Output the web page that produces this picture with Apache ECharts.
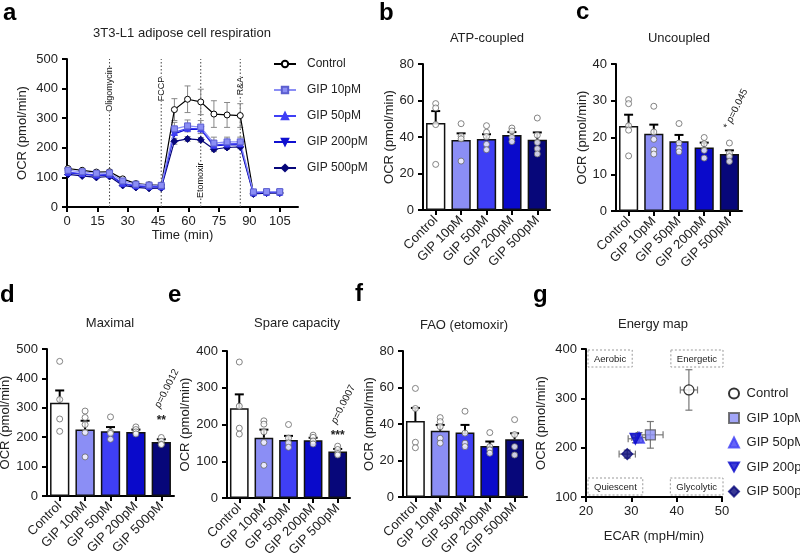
<!DOCTYPE html>
<html><head><meta charset="utf-8">
<script src="https://cdn.jsdelivr.net/npm/echarts@6/dist/echarts.min.js"></script>
<style>html,body{margin:0;padding:0;background:#fff}#c{width:800px;height:559px}</style>
</head><body><div id="c"></div>
<script>
const FONT = 'Arial, "Liberation Sans", Helvetica, sans-serif';

// ---------- data ----------
const cats = ['Control','GIP 10pM','GIP 50pM','GIP 200pM','GIP 500pM'];
const barColors = ['#ffffff','#8b8ef5','#3f3ff5','#0a0acb','#07077a'];

// panel a: time course
const times = [0.5,7.5,14.5,21,27.5,34,40.5,46.5,53,59.5,66,72.5,79,85.5,92,98.5,105];
const ocrCtrl = [130,124,118,119,95,79,75,73,329,364,355,314,311,309,46,49,49];
const ocrCtrlErr = [5,4,4,4,4,3,3,3,37,45,43,45,42,40,3,3,3];
const ocrG10 = [124,119,114,115,88,77,74,73,264,274,270,216,220,220,51,52,52];
const ocrG10Err = [4,4,4,4,4,3,3,3,22,20,22,20,16,16,3,3,3];
const ocrG50 = [117,113,108,110,80,72,70,69,252,266,264,209,213,214,48,50,50];
const ocrG200 = [115,111,106,108,78,70,68,67,247,263,262,206,210,211,47,49,49];
const ocrG500 = [110,105,100,103,73,66,63,64,222,230,227,195,201,203,44,47,47];
const ocrG500Err = [3,3,3,3,3,3,3,3,10,8,8,8,6,6,2,2,2];
const injections = [21,46.5,66,85.5];
const injectionNames = ['Oligomycin','FCCP','Etomoxir','R&A'];
const timeTicks = [0,15,30,45,60,75,90,105];

// panel b: ATP-coupled
const atpMean = [47.7,38.4,38.9,41.1,38.5];
const atpErr = [6.5,3.6,2.6,1.6,4.0];
const atpPts = [[58.3,55.9,46.8,25],[47.3,40.4,39,26.8],[46.2,42.6,40.2,36,33],[44.9,43.3,39.8,37.5],[50.4,41,37,33.6,30.7]];
// panel c: Uncoupled
const uncMean = [23.1,21.0,19.0,17.3,15.5];
const uncErr = [3.1,2.5,1.7,1.3,1.0];
const uncPts = [[30.3,29.2,23.2,22,15],[28.5,21.5,19.5,16.6,15.5],[23.8,18.5,17,16.1],[20,18.3,16.5,14.4],[18.5,15.7,14.8,13.5]];
// panel d: Maximal
const maxMean = [317,226,220.5,218,184];
const maxErr = [42,30,14,8,9];
const maxPts = [[458,328,262,220],[289,267,243,216,133],[269,218,213,193],[235,226,218,211],[199,186,176,175]];
// panel e: Spare capacity
const spareMean = [244,164,158,157,126.5];
const spareErr = [38,22,11,7,7];
const sparePts = [[370,250,190,174],[210,201,180,151,89],[200,163,150,138],[171,165,155,147],[141,132,121,117]];
// panel f: FAO (etomoxir)
const faoMean = [41.6,36.3,35.4,28.0,31.6];
const faoErr = [7.2,3.2,4.1,2.4,3.3];
const faoPts = [[59.5,48.5,30,27],[43.5,41.3,38.5,32.2,29.5],[47,35,29.5,27.6],[35.3,27.6,25.8,24],[42.4,34.2,27.6,23]];
// panel g: energy map
const ecarMean = [42.7,34.2,31.7,30.9,29.1];
const ecarErr = [1.9,2.8,1.6,1.6,1.8];
const ocrMapMean = [317,226,220.5,218,187];
const ocrMapErr = [41,27,10,8,8];
const mapCorners = [[20,400],[50,400],[20,100],[50,100]];
const mapCornerNames = ['Aerobic','Energetic','Quiescent','Glycolytic'];

// ---------- helpers ----------
const txt = {fontSize:13, color:'#222', fontFamily:FONT};
function valAxis(k, min, max, interval, name, nameGap, extra) {
  return Object.assign({type:'value', gridIndex:k, min, max, interval, name, nameLocation:'middle', nameGap,
    nameTextStyle:txt,
    axisLine:{show:true, onZero:false, lineStyle:{color:'#000', width:2}},
    axisTick:{show:true, length:5, lineStyle:{color:'#000', width:2}},
    axisLabel:Object.assign({margin:9}, txt),
    splitLine:{show:false}}, extra || {});
}
function catAxis(k) {
  return {type:'category', gridIndex:k, data:cats,
    axisLine:{show:true, lineStyle:{color:'#000', width:2}},
    axisTick:{show:true, alignWithLabel:true, length:5, lineStyle:{color:'#000', width:2}},
    axisLabel:Object.assign({rotate:45, interval:0, margin:8}, txt),
    splitLine:{show:false}};
}
function errUp(params, api) {
  const x = api.value(0), y = api.value(1), e = api.value(2);
  const p0 = api.coord([x, y]), p1 = api.coord([x, y + e]);
  const hw = 4.5;
  return {type:'group', children:[
    {type:'line', shape:{x1:p0[0], y1:p0[1], x2:p1[0], y2:p1[1]}, style:{stroke:'#000', lineWidth:2}},
    {type:'line', shape:{x1:p1[0]-hw, y1:p1[1], x2:p1[0]+hw, y2:p1[1]}, style:{stroke:'#000', lineWidth:2}}
  ]};
}
function errSym(params, api) {
  const x = api.value(0), y = api.value(1), e = api.value(2);
  const t = api.coord([x, y + e]), b = api.coord([x, y - e]);
  const hw = 3;
  return {type:'group', children:[
    {type:'line', shape:{x1:t[0], y1:t[1], x2:b[0], y2:b[1]}, style:{stroke:'#888', lineWidth:1}},
    {type:'line', shape:{x1:t[0]-hw, y1:t[1], x2:t[0]+hw, y2:t[1]}, style:{stroke:'#888', lineWidth:1}},
    {type:'line', shape:{x1:b[0]-hw, y1:b[1], x2:b[0]+hw, y2:b[1]}, style:{stroke:'#888', lineWidth:1}}
  ]};
}
function barSeries(k, means, errs, pts) {
  return [
    {type:'bar', xAxisIndex:k, yAxisIndex:k, barWidth:'76%', silent:true, z:2,
     data: means.map((v,j)=>({value:v, itemStyle:{color:barColors[j], borderColor:'#111', borderWidth:1.5}}))},
    {type:'custom', xAxisIndex:k, yAxisIndex:k, z:3, silent:true, encode:{x:0, y:1},
     data: means.map((v,j)=>[j, v, errs[j]]), renderItem: errUp},
    {type:'scatter', xAxisIndex:k, yAxisIndex:k, z:4, silent:true, symbol:'circle', symbolSize:6,
     itemStyle:{color:'#fff', borderColor:'#666', borderWidth:1},
     data: pts.flatMap((arr,j)=>arr.map(v=>[j, v]))}
  ];
}
function annotSeries(k, means, errs, stars, ptext, cfg) {
  const j = 4;
  return {type:'custom', xAxisIndex:k, yAxisIndex:k, z:5, silent:true, encode:{x:0, y:1},
    data:[[j, means[j] + errs[j]]],
    renderItem: function(params, api) {
      const p = api.coord([api.value(0), api.value(1)]);
      const children = [];
      if (stars) children.push({type:'text', x:p[0], y:p[1] + cfg.sdy,
        style:{text:stars, align:'center', verticalAlign:'middle', fontSize:12, fontWeight:'bold', fontFamily:FONT, fill:'#222'}});
      children.push({type:'text', x:p[0] + cfg.dx, y:p[1] + cfg.dy, rotation: cfg.rot * Math.PI / 180,
        style:{text:ptext, align:'left', verticalAlign:'middle', fontSize:10, fontFamily:FONT, fill:'#222',
          rich:{i:{fontStyle:'italic', fontSize:10, fontFamily:FONT, fill:'#222'}}}});
      return {type:'group', children};
    }};
}

const downTri = 'path://M0,0 L10,0 L5,9 Z';

const lineDefs = [
  {name:'Control', data:ocrCtrl, symbol:'circle', size:6, color:'#000', fill:'#fff', border:'#000'},
  {name:'GIP 500pM', data:ocrG500, symbol:'diamond', size:7, color:'#07077a', fill:'#07077a', border:'#07077a'},
  {name:'GIP 200pM', data:ocrG200, symbol:downTri, size:6, color:'#1010d0', fill:'#1010d0', border:'#1010d0'},
  {name:'GIP 50pM', data:ocrG50, symbol:'triangle', size:6, color:'#3f3ff5', fill:'#3f3ff5', border:'#3f3ff5'},
  {name:'GIP 10pM', data:ocrG10, symbol:'rect', size:6, color:'#8b8ef5', fill:'#8b8ef5', border:'#5c5fcf'}
];

const series = [];
// injection lines
series.push({type:'custom', xAxisIndex:0, yAxisIndex:0, z:1, silent:true, encode:{x:0, y:1},
  data: injections.map((t,i)=>[t, i]),
  renderItem: function(params, api) {
    const t = api.value(0), i = api.value(1);
    const b = api.coord([t, 0]), top = api.coord([t, 500]);
    const labTop = [472, 440, 150, 440][i];
    const lp = api.coord([t, labTop]);
    return {type:'group', children:[
      {type:'line', shape:{x1:b[0], y1:b[1], x2:top[0], y2:top[1]}, style:{stroke:'#444', lineWidth:1, lineDash:[1.5,2]}},
      {type:'text', x:lp[0], y:lp[1], rotation:Math.PI/2,
       style:{text:injectionNames[i], align:'right', verticalAlign:'middle', fontSize:9, fontFamily:FONT, fill:'#111', backgroundColor:'#fff'}}
    ]};
  }});
// error bars a
[[ocrCtrl, ocrCtrlErr],[ocrG10, ocrG10Err],[ocrG500, ocrG500Err]].forEach(([v,e])=>{
  series.push({type:'custom', xAxisIndex:0, yAxisIndex:0, z:2, silent:true, encode:{x:0, y:1},
    data: times.map((t,i)=>[t, v[i], e[i]]), renderItem: errSym});
});
lineDefs.forEach(d=>{
  series.push({type:'line', name:d.name, xAxisIndex:0, yAxisIndex:0, z:3,
    data: times.map((t,i)=>[t, d.data[i]]), symbol:d.symbol, symbolSize:d.size, showAllSymbol:true,
    lineStyle:{color:d.color, width:1.2}, itemStyle:{color:d.fill, borderColor:d.border, borderWidth:1},
    emphasis:{disabled:true}, animation:false});
});
series.push(...barSeries(1, atpMean, atpErr, atpPts));
series.push(...barSeries(2, uncMean, uncErr, uncPts));
series.push(annotSeries(2, uncMean, uncErr, null, '* {i|p}=0.045', {dx:-3, dy:-22, rot:64}));
series.push(...barSeries(3, maxMean, maxErr, maxPts));
series.push(annotSeries(3, maxMean, maxErr, '**', '{i|p}=0.0012', {sdy:-19, dx:-4, dy:-32, rot:63}));
series.push(...barSeries(4, spareMean, spareErr, sparePts));
series.push(annotSeries(4, spareMean, spareErr, '***', '{i|p}=0.0007', {sdy:-13, dx:-4, dy:-26, rot:63}));
series.push(...barSeries(5, faoMean, faoErr, faoPts));

// panel g
series.push({type:'custom', xAxisIndex:6, yAxisIndex:6, z:2, silent:true, encode:{x:0, y:1},
  data: ecarMean.map((x,j)=>[x, ocrMapMean[j], ecarErr[j], ocrMapErr[j]]),
  renderItem: function(params, api) {
    const x = api.value(0), y = api.value(1), ex = api.value(2), ey = api.value(3);
    const l = api.coord([x-ex, y]), r = api.coord([x+ex, y]), t = api.coord([x, y+ey]), b = api.coord([x, y-ey]);
    const c = 3.5, st = {stroke:'#777', lineWidth:1.2};
    return {type:'group', children:[
      {type:'line', shape:{x1:l[0], y1:l[1], x2:r[0], y2:r[1]}, style:st},
      {type:'line', shape:{x1:t[0], y1:t[1], x2:b[0], y2:b[1]}, style:st},
      {type:'line', shape:{x1:l[0], y1:l[1]-c, x2:l[0], y2:l[1]+c}, style:st},
      {type:'line', shape:{x1:r[0], y1:r[1]-c, x2:r[0], y2:r[1]+c}, style:st},
      {type:'line', shape:{x1:t[0]-c, y1:t[1], x2:t[0]+c, y2:t[1]}, style:st},
      {type:'line', shape:{x1:b[0]-c, y1:b[1], x2:b[0]+c, y2:b[1]}, style:st}
    ]};
  }});
const mapSym = [
  {symbol:'circle', size:10, fill:'#fff', border:'#000'},
  {symbol:'rect', size:10, fill:'#8b8ef5', border:'#555'},
  {symbol:'triangle', size:11, fill:'#3f3ff5', border:'#3f3ff5'},
  {symbol:downTri, size:11, fill:'#0a0acb', border:'#0a0acb'},
  {symbol:'diamond', size:11, fill:'#07077a', border:'#07077a'}
];
cats.forEach((c,j)=>{
  series.push({type:'scatter', name:c+' ', xAxisIndex:6, yAxisIndex:6, z:4,
    symbol:mapSym[j].symbol, symbolSize:mapSym[j].size,
    itemStyle:{color:mapSym[j].fill, borderColor:mapSym[j].border, borderWidth:1.2},
    data:[[ecarMean[j], ocrMapMean[j]]]});
});
series.push({type:'custom', xAxisIndex:6, yAxisIndex:6, z:1, silent:true, encode:{x:0, y:1},
  data: mapCorners.map((p,i)=>[p[0], p[1], i]),
  renderItem: function(params, api) {
    const i = api.value(2);
    const p = api.coord([api.value(0), api.value(1)]);
    const left = (i % 2 === 0), top = (i < 2);
    return {type:'text', x:p[0] + (left ? 2 : 1), y:p[1] + (top ? 1 : -2),
      style:{text:mapCornerNames[i], align:left ? 'left' : 'right', verticalAlign:top ? 'top' : 'bottom',
        fontSize:9.5, fontFamily:FONT, fill:'#222', padding:[4,6,3,6],
        borderColor:'#999', borderWidth:1, borderDash:[2,2]}};
  }});

const grids = [
  {left:67, top:59, width:231, height:148},
  {left:423, top:64, width:127, height:146},
  {left:616, top:64, width:126, height:147},
  {left:47, top:349, width:127, height:147},
  {left:227, top:351, width:123, height:147},
  {left:403, top:351, width:124, height:146},
  {left:586, top:349, width:136, height:148}
].map(g=>Object.assign({outerBoundsMode:'none', containLabel:false}, g));

const xAxes = [
  valAxis(0, 0, 114, 15, 'Time (min)', 13, {
    axisLabel:Object.assign({margin:8, customValues:timeTicks, formatter:v=>(v%15===0 && v<=105) ? String(v) : ''}, txt),
    axisTick:{show:true, length:5, customValues:timeTicks, lineStyle:{color:'#000', width:2}}}),
  catAxis(1), catAxis(2), catAxis(3), catAxis(4), catAxis(5),
  valAxis(6, 20, 50, 10, 'ECAR (mpH/min)', 33, {axisLabel:Object.assign({margin:8}, txt)})
];
const yAxes = [
  valAxis(0, 0, 500, 100, 'OCR (pmol/min)', 38),
  valAxis(1, 0, 80, 20, 'OCR (pmol/min)', 26),
  valAxis(2, 0, 40, 10, 'OCR (pmol/min)', 26),
  valAxis(3, 0, 500, 100, 'OCR (pmol/min)', 33),
  valAxis(4, 0, 400, 100, 'OCR (pmol/min)', 34),
  valAxis(5, 0, 80, 20, 'OCR (pmol/min)', 27),
  valAxis(6, 100, 400, 100, 'OCR (pmol/min)', 38)
];

function gtext(text, x, y, opt) {
  return {type:'text', x, y, silent:true,
    style:Object.assign({text, align:'center', verticalAlign:'middle', fontSize:13, fontFamily:FONT, fill:'#222'}, opt || {})};
}
const letterStyle = {align:'left', fontSize:24, fontWeight:'bold', fill:'#000'};
const graphic = [
  gtext('a', 3, 13, letterStyle), gtext('b', 379, 13, letterStyle), gtext('c', 576, 12, letterStyle),
  gtext('d', 0, 295.6, letterStyle), gtext('e', 168, 295.6, letterStyle), gtext('f', 355, 294.6, letterStyle),
  gtext('g', 533, 295.6, letterStyle),
  gtext('3T3-L1 adipose cell respiration', 182, 33),
  gtext('ATP-coupled', 487, 38),
  gtext('Uncoupled', 679, 38),
  gtext('Maximal', 110, 323),
  gtext('Spare capacity', 297, 323),
  gtext('FAO (etomoxir)', 464, 325),
  gtext('Energy map', 653, 324)
];

const chart = echarts.init(document.getElementById('c'), null, {renderer:'canvas'});
chart.setOption({
  animation:false,
  backgroundColor:'#fff',
  textStyle:{fontFamily:FONT},
  grid:grids, xAxis:xAxes, yAxis:yAxes,
  legend:[
    {data:['Control','GIP 10pM','GIP 50pM','GIP 200pM','GIP 500pM'], orient:'vertical', left:268, top:53,
     itemWidth:22, itemHeight:8, itemGap:14, selectedMode:false,
     formatter:n=>'\u2002'+n, textStyle:{fontSize:12, color:'#222', fontFamily:FONT}},
    {data:cats.map(c=>c+' '), orient:'vertical', left:723, top:382,
     itemWidth:10, itemHeight:10, itemGap:11.5, selectedMode:false,
     formatter:n=>'\u2009'+n, textStyle:{fontSize:13, color:'#222', fontFamily:FONT}}
  ],
  series, graphic
});
</script></body></html>
